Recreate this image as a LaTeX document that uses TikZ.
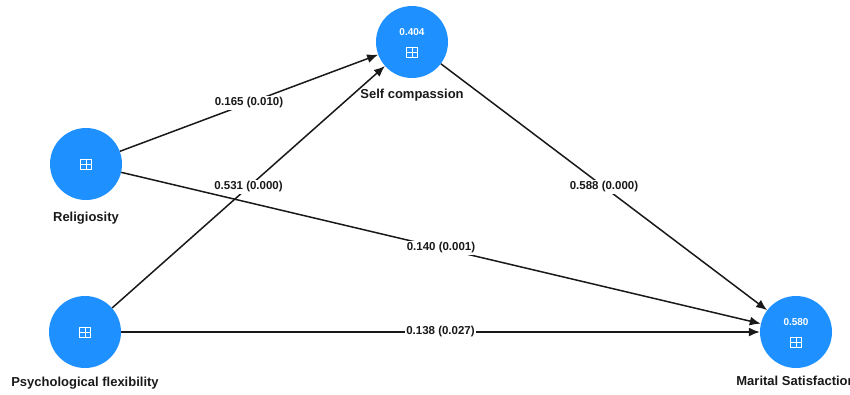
\documentclass[tikz,border=0pt]{standalone}
\usepackage{fontspec}
\setmainfont{Liberation Sans}
\usetikzlibrary{arrows.meta, positioning}
\definecolor{lvblue}{RGB}{30,144,255}
\definecolor{inkgray}{RGB}{25,25,25}
\tikzset{
	latent/.style = {circle, fill=lvblue, minimum size=72pt, inner sep=0pt},
	value/.style = {text=white, font=\fontsize{10}{12}\selectfont\bfseries, inner sep=0pt},
	lvname/.style = {text=inkgray, font=\fontsize{13}{15}\selectfont\bfseries, inner sep=0pt},
	weight/.style = {fill=white, text=inkgray, font=\fontsize{11.5}{13}\selectfont\bfseries, inner sep=1.5pt},
	link/.style = {-{Latex[length=11pt, width=9pt]}, draw=inkgray, line width=1.5pt},
	expand/.pic = {
		\draw[white, line width=0.7pt] (-5.5,-5) rectangle (5.5,5) (0,-5) -- (0,5) (-5.5,0) -- (5.5,0);
	}
}

\begin{document}
\begin{tikzpicture}[x=1pt, y=-1pt]
	\useasboundingbox (0,0) rectangle (850,394);
	\node[latent] (sc)  at (412,42)  {};
	\node[latent] (rel) at (86,164)  {};
	\node[latent] (psy) at (85,332)  {};
	\node[latent] (ms)  at (796,332) {};
	\node[lvname, below=11pt of sc]  (sclbl)  {Self compassion};
	\node[lvname, below=12pt of rel] (rellbl) {Religiosity};
	\node[lvname, below=9pt of psy]  (psylbl) {Psychological flexibility};
	\node[lvname, below=8pt of ms]   (mslbl)  {Marital Satisfaction};
	\node[value] (scval) at ([yshift=10pt]sc.center) {0.404};
	\node[value] (msval) at ([yshift=10pt]ms.center) {0.580};
	\foreach \n in {rel,psy} \pic at (\n) {expand};
	\foreach \n in {sc,ms} \pic at ([yshift=-10pt]\n.center) {expand};
	\foreach \a/\b/\w in {rel/sc/{0.165 (0.010)}, psy/sc/{0.531 (0.000)}, rel/ms/{0.140 (0.001)}, psy/ms/{0.138 (0.027)}, sc/ms/{0.588 (0.000)}}
		\draw[link] (\a) -- node[weight] {\w} (\b);
\end{tikzpicture}
\end{document}
